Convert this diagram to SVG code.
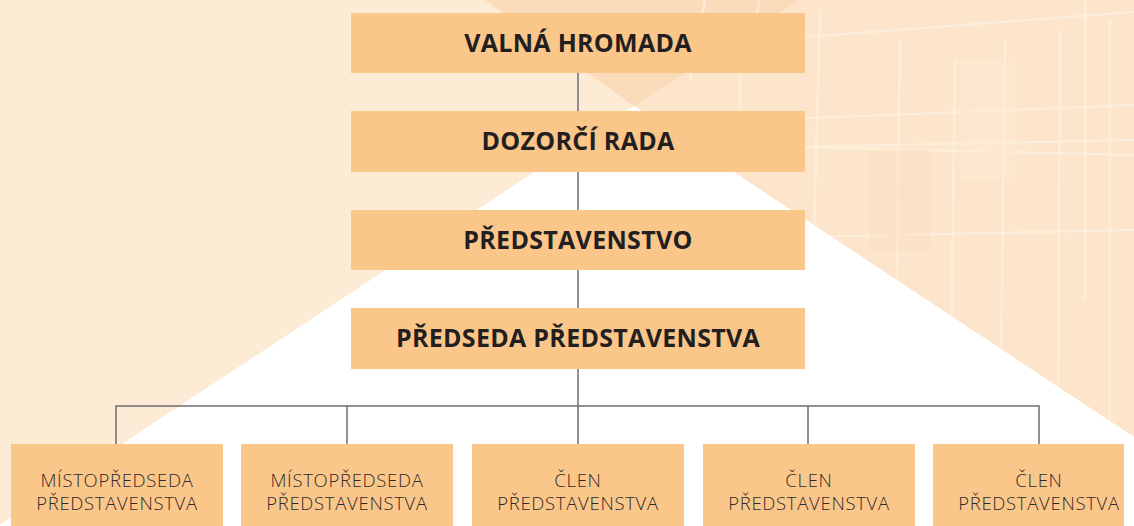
<svg xmlns="http://www.w3.org/2000/svg" width="1134" height="526" viewBox="0 0 1134 526">
<defs>
<style>
.box{fill:#fbc68a;}
.hd{font-family:"Open Sans","Liberation Sans",sans-serif;font-weight:700;font-size:25px;letter-spacing:0.3px;fill:#231f20;text-anchor:middle;}
.sm{font-family:"Open Sans","Liberation Sans",sans-serif;font-weight:300;font-size:18.5px;letter-spacing:0.7px;fill:#2e2a29;text-anchor:middle;}
.ln{stroke:#6d6e71;stroke-width:1.5;fill:none;}
.bl{stroke:#fef3e6;stroke-width:2.5;fill:none;opacity:0.6;}
</style>
<clipPath id="photo"><polygon points="485,0 1134,0 1134,437 634,106"/></clipPath>
</defs>
<g id="background">
<rect x="0" y="0" width="1134" height="526" fill="#fdebd6"/>
<polygon points="485,0 1134,0 1134,437 634,106" fill="#fce5cb"/>
<polygon points="485,0 800,0 634,106" fill="#fbd8b2" opacity="0.7"/>
<g clip-path="url(#photo)">
<path class="bl" d="M700,45 L1134,12 M640,125 L1134,105 M650,150 L1134,140 M660,240 L1134,230 M700,145 L1134,155"/>
<path class="bl" d="M740,30 L740,330 M820,10 L810,380 M900,40 L895,420 M955,60 L950,430 M1005,40 L1000,440 M1060,30 L1058,440 M1110,20 L1110,440"/>
<path class="bl" d="M705,0 L690,80 M760,0 L745,60 M1085,0 L1085,300"/>
<rect x="960" y="60" width="55" height="120" fill="#fde9d2" opacity="0.5"/>
<rect x="870" y="150" width="60" height="100" fill="#fbdcbc" opacity="0.4"/>
</g>
<polygon points="634,106 -2,526 1134,526 1134,437" fill="#ffffff"/>
</g>
<g id="connectors">
<line class="ln" x1="578" y1="73" x2="578" y2="444"/>
<polyline class="ln" points="116,444 116,406 1039,406 1039,444"/>
<line class="ln" x1="347" y1="406" x2="347" y2="444"/>
<line class="ln" x1="808" y1="406" x2="808" y2="444"/>
</g>
<g id="n-valna"><rect class="box" x="351" y="13" width="454" height="60"/><text class="hd" x="578" y="52">VALNÁ HROMADA</text></g>
<g id="n-dozorci"><rect class="box" x="351" y="111" width="454" height="61"/><text class="hd" x="578" y="150">DOZORČÍ RADA</text></g>
<g id="n-predstavenstvo"><rect class="box" x="351" y="210" width="454" height="60"/><text class="hd" x="578" y="249">PŘEDSTAVENSTVO</text></g>
<g id="n-predseda"><rect class="box" x="351" y="308" width="454" height="61"/><text class="hd" x="578" y="347">PŘEDSEDA PŘEDSTAVENSTVA</text></g>
<g id="n-mistopredseda1"><rect class="box" x="11" y="444" width="212" height="90"/><text class="sm" x="117" y="486.5">MÍSTOPŘEDSEDA</text><text class="sm" x="117" y="510">PŘEDSTAVENSTVA</text></g>
<g id="n-mistopredseda2"><rect class="box" x="241" y="444" width="212" height="90"/><text class="sm" x="347" y="486.5">MÍSTOPŘEDSEDA</text><text class="sm" x="347" y="510">PŘEDSTAVENSTVA</text></g>
<g id="n-clen1"><rect class="box" x="472" y="444" width="212" height="90"/><text class="sm" x="578" y="486.5">ČLEN</text><text class="sm" x="578" y="510">PŘEDSTAVENSTVA</text></g>
<g id="n-clen2"><rect class="box" x="703" y="444" width="212" height="90"/><text class="sm" x="809" y="486.5">ČLEN</text><text class="sm" x="809" y="510">PŘEDSTAVENSTVA</text></g>
<g id="n-clen3"><rect class="box" x="933" y="444" width="191" height="90"/><text class="sm" x="1039" y="486.5">ČLEN</text><text class="sm" x="1039" y="510">PŘEDSTAVENSTVA</text></g>
</svg>
